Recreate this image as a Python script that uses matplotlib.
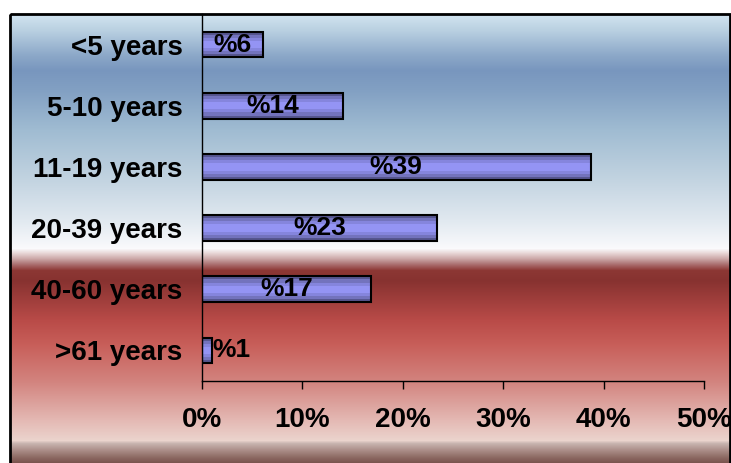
import numpy as np
import matplotlib.pyplot as plt
from matplotlib.patches import Rectangle

# data
categories = ['<5 years', '5-10 years', '11-19 years', '20-39 years', '40-60 years', '>61 years']
shares = [6.1, 14.0, 38.7, 23.4, 16.8, 1.0]
bar_labels = ['%6', '%14', '%39', '%23', '%17', '%1']
xticks = [0, 10, 20, 30, 40, 50]
xtick_labels = ['0%', '10%', '20%', '30%', '40%', '50%']

W, H = 731, 463
plt.rcParams['font.family'] = ['Liberation Sans', 'DejaVu Sans']
fig = plt.figure(figsize=(W / 100, H / 100), dpi=100)

# background: blue sky fading to white, then red band fading to pink
stops = [
    (14, (210, 228, 240)), (30, (185, 208, 225)), (55, (140, 168, 200)),
    (70, (120, 150, 190)), (90, (130, 160, 195)), (130, (160, 188, 210)),
    (180, (195, 212, 225)), (220, (225, 233, 240)), (248, (250, 250, 252)),
    (252, (235, 220, 220)), (258, (205, 170, 170)), (264, (170, 110, 110)),
    (270, (140, 55, 52)), (280, (135, 50, 48)), (320, (185, 75, 72)),
    (345, (200, 95, 90)), (380, (210, 130, 125)), (420, (228, 185, 180)),
    (440, (235, 212, 205)), (443, (200, 180, 175)), (450, (170, 140, 135)),
    (457, (140, 105, 98)), (463, (120, 80, 75)),
]
sy = [s[0] for s in stops]
rows = np.arange(H)
col = np.stack([np.interp(rows, sy, [s[1][k] for s in stops]) for k in range(3)], axis=1) / 255
img = np.ones((H, W, 3))
img[14:, 10:730] = col[14:, None, :]

bg = fig.add_axes([0, 0, 1, 1])
bg.imshow(img, extent=(0, W, H, 0), aspect='auto', interpolation='nearest')
bg.add_patch(Rectangle((10, 14), 720, 460, fill=False, lw=2, ec='black'))
bg.set_xlim(0, W)
bg.set_ylim(H, 0)
bg.axis('off')

ax = fig.add_axes([202 / W, 1 - 381 / H, (704 - 202) / W, (381 - 14) / H])
ax.patch.set_alpha(0)

y = np.arange(len(categories))
# stepped shading inside each bar: dark edges, light middle
ax.barh(y, shares, height=0.42, color='#56568f', zorder=2)
ax.barh(y, shares, height=0.32, color='#7373bd', zorder=2)
ax.barh(y, shares, height=0.22, color='#8585dd', zorder=2)
ax.barh(y, shares, height=0.12, color='#9494f4', zorder=2)
ax.barh(y, shares, height=0.42, fill=False, edgecolor='black', lw=1.5, zorder=3)

for yi, v, lab in zip(y, shares, bar_labels):
    if v < 3:
        ax.text(v, yi, lab, ha='left', va='center', fontsize=19, fontweight='bold', zorder=4)
    else:
        ax.text(v / 2, yi, lab, ha='center', va='center', fontsize=19, fontweight='bold', zorder=4)

ax.set_xlim(0, 50)
ax.set_ylim(len(categories) - 0.5, -0.5)
ax.set_yticks(y)
ax.set_yticklabels(categories, fontsize=20, fontweight='bold')
ax.set_xticks(xticks)
ax.set_xticklabels(xtick_labels, fontsize=20, fontweight='bold')
ax.tick_params(axis='y', length=0, pad=14)
ax.tick_params(axis='x', direction='out', length=6, width=1, pad=13)
for s in ['top', 'right']:
    ax.spines[s].set_visible(False)
for s in ['left', 'bottom']:
    ax.spines[s].set_linewidth(1)

fig.savefig('out.png', dpi=100)
